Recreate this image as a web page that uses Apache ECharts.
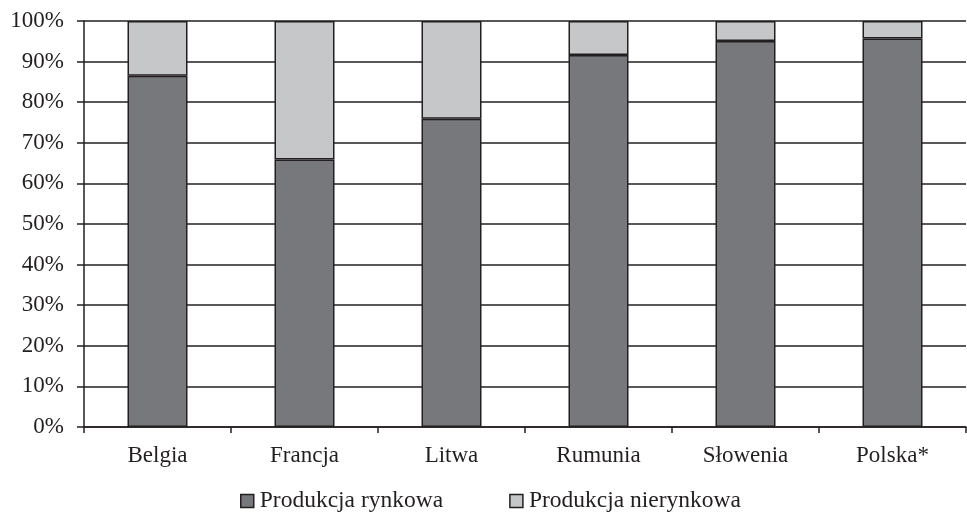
<!DOCTYPE html>
<html>
<head>
<meta charset="utf-8">
<script src="https://cdn.jsdelivr.net/npm/echarts@6/dist/echarts.min.js"></script>
<style>
  html, body { margin: 0; padding: 0; background: #fff; }
  #chart { width: 967px; height: 514px; }
</style>
</head>
<body>
<div id="chart"></div>
<script>
// kraje
var categories = ['Belgia', 'Francja', 'Litwa', 'Rumunia', 'Słowenia', 'Polska*'];
// udział produkcji rynkowej (%)
var rynkowa = [86.5, 65.9, 75.9, 91.6, 95.1, 95.7];
// udział produkcji nierynkowej (%)
var nierynkowa = [13.5, 34.1, 24.1, 8.4, 4.9, 4.3];
var yTicks = [0, 10, 20, 30, 40, 50, 60, 70, 80, 90, 100];

var font = 'Liberation Serif';
var ink = '#231f20';

var myChart = echarts.init(document.getElementById('chart'));
myChart.setOption({
  animation: false,
  textStyle: { fontFamily: font },
  grid: { left: 84, right: 1, top: 21, bottom: 87 },
  legend: {
    top: 484,
    left: 235,
    itemWidth: 13,
    itemHeight: 13,
    itemGap: 66,
    textStyle: { fontFamily: font, fontSize: 23.5, color: ink, padding: [0, 0, 0, 1] },
    data: [
      { name: 'Produkcja rynkowa', icon: 'rect', itemStyle: { borderColor: ink, borderWidth: 1.5 } },
      { name: 'Produkcja nierynkowa', icon: 'rect', itemStyle: { borderColor: ink, borderWidth: 1.5 } }
    ]
  },
  xAxis: {
    type: 'category',
    data: categories,
    axisLine: { lineStyle: { color: ink, width: 1.5 } },
    axisTick: { show: true, length: 6, lineStyle: { color: ink, width: 1.5 } },
    axisLabel: { fontFamily: font, fontSize: 23, color: ink, margin: 17 }
  },
  yAxis: {
    type: 'value',
    min: yTicks[0],
    max: yTicks[yTicks.length - 1],
    interval: 10,
    axisLine: { show: true, lineStyle: { color: ink, width: 1.5 } },
    axisTick: { show: true, length: 7, lineStyle: { color: ink, width: 1.5 } },
    splitLine: { lineStyle: { color: ink, width: 1.5 } },
    axisLabel: { fontFamily: font, fontSize: 23, color: ink, margin: 20, formatter: '{value}%' }
  },
  series: [
    {
      name: 'Produkcja rynkowa',
      type: 'bar',
      stack: 'total',
      barWidth: 60,
      data: rynkowa,
      itemStyle: { color: '#77787b', borderColor: ink, borderWidth: 1.5 }
    },
    {
      name: 'Produkcja nierynkowa',
      type: 'bar',
      stack: 'total',
      barWidth: 60,
      data: nierynkowa,
      itemStyle: { color: '#c6c7c9', borderColor: ink, borderWidth: 1.5 }
    }
  ]
});
</script>
</body>
</html>
